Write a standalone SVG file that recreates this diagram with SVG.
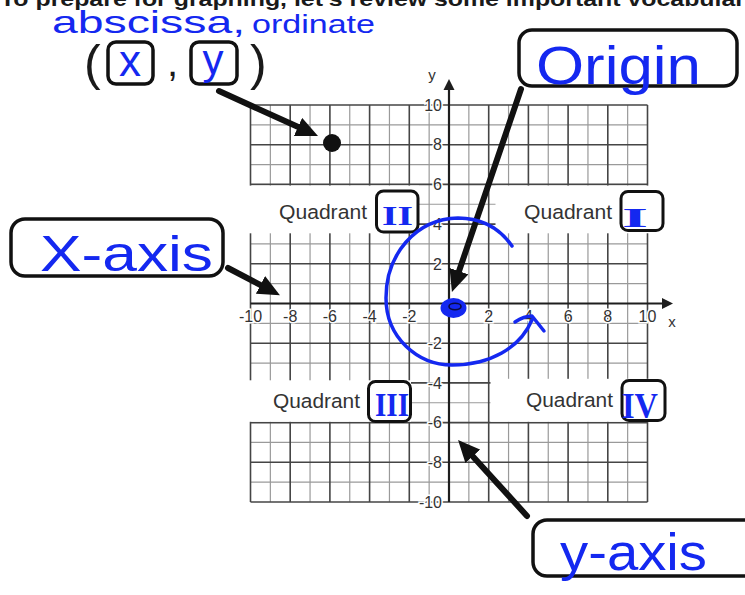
<svg xmlns="http://www.w3.org/2000/svg" width="745" height="595" viewBox="0 0 745 595">
<style>
.hw{font-family:"Liberation Sans","DejaVu Sans",sans-serif;fill:#1428f0}
.paren{font-family:"Liberation Sans",Arial,sans-serif;fill:#1a1a1a}
.box{fill:#fff;stroke:#111;stroke-width:3.5}
.qbox{fill:#fff;stroke:#111;stroke-width:3}
.tick{font-family:"Liberation Sans",Arial,sans-serif;font-size:16px;fill:#333;stroke:#fff;stroke-width:3;paint-order:stroke}
.tx{text-anchor:middle}
.ty{text-anchor:end}
.quad{font-family:"Liberation Sans",Arial,sans-serif;font-size:20.5px;fill:#333}
.roman{font-family:"Liberation Serif","Times New Roman",serif;font-weight:bold;fill:#1428f0}
.minor{stroke:#9a9a9a;stroke-width:1.2;fill:none}
.major{stroke:#454545;stroke-width:1.6;fill:none}
.axis{stroke:#1e1e1e;stroke-width:2.2;fill:none}
.arrow{stroke:#111;stroke-width:6;fill:none;stroke-linecap:round;marker-end:url(#ah)}
.ink{stroke:#1428f0;stroke-width:3.5;fill:none;stroke-linecap:round;stroke-linejoin:round}
</style>
<defs>
<marker id="ah" markerUnits="userSpaceOnUse" viewBox="0 0 22 20" markerWidth="22" markerHeight="20" refX="10" refY="10" orient="auto">
<path d="M0,0 L22,10 L0,20 z" fill="#111"/>
</marker>
</defs>
<rect width="745" height="595" fill="#fff"/>

<g id="header">
<text x="0" y="5.5" font-family="Liberation Sans, Arial, sans-serif" font-weight="bold" font-size="20" fill="#1a1a1a" textLength="745" lengthAdjust="spacingAndGlyphs">To prepare for graphing, let's review some important vocabular</text>
</g>

<g id="abscissa-ordinate">
<text class="hw"><tspan x="52" y="33" font-size="32" textLength="193" lengthAdjust="spacingAndGlyphs">abscissa,</tspan> <tspan x="252" y="33" font-size="26" textLength="123" lengthAdjust="spacingAndGlyphs">ordinate</tspan></text>
</g>

<g id="coordinate-pair">
<text class="paren" x="84" y="80" font-size="50">(</text>
<rect class="box" x="108" y="42" width="45" height="42" rx="8"/>
<text class="hw" x="130" y="76" font-size="44" text-anchor="middle">x</text>
<text class="paren" x="167" y="76" font-size="40">,</text>
<rect class="box" x="191" y="42" width="46" height="42" rx="8"/>
<text class="hw" x="213" y="74" font-size="42" text-anchor="middle">y</text>
<text class="paren" x="250" y="80" font-size="50">)</text>
</g>

<g id="grid">
<path class="minor" d="M270.35,105V502M310.05,105V502M349.75,105V502M389.45,105V502M429.15,105V502M468.85,105V502M508.55,105V502M548.25,105V502M587.95,105V502M627.65,105V502M250.5,124.85H647.5M250.5,164.55H647.5M250.5,204.25H647.5M250.5,243.95H647.5M250.5,283.65H647.5M250.5,323.35H647.5M250.5,363.05H647.5M250.5,402.75H647.5M250.5,442.45H647.5M250.5,482.15H647.5"/>
<path class="major" d="M250.5,105V502M290.2,105V502M329.9,105V502M369.6,105V502M409.3,105V502M488.7,105V502M528.4,105V502M568.1,105V502M607.8,105V502M647.5,105V502M250.5,105H647.5M250.5,144.7H647.5M250.5,184.4H647.5M250.5,224.1H647.5M250.5,263.8H647.5M250.5,343.2H647.5M250.5,382.9H647.5M250.5,422.6H647.5M250.5,462.3H647.5M250.5,502H647.5"/>
<g fill="#fff">
<rect x="248" y="185.6" width="171" height="47.7"/>
<rect x="495.5" y="185.6" width="155" height="47.7"/>
<rect x="248" y="380.3" width="163" height="41.5"/>
<rect x="490.5" y="378.8" width="160" height="43"/>
</g>
</g>

<g id="axes">
<path class="axis" d="M250.5,303.5H664M449,502V88"/>
<path d="M673,303.5 L662,298 L662,309 z" fill="#1e1e1e"/>
<path d="M449,79 L443.5,90 L454.5,90 z" fill="#1e1e1e"/>
<text x="672" y="327" font-family="Liberation Sans, Arial, sans-serif" font-size="15" fill="#333" text-anchor="middle">x</text>
<text x="432" y="80" font-family="Liberation Sans, Arial, sans-serif" font-size="15" fill="#333" text-anchor="middle">y</text>
</g>

<g id="tick-labels" class="tick">
<text class="tx" x="250.5" y="322">-10</text>
<text class="tx" x="290.2" y="322">-8</text>
<text class="tx" x="329.9" y="322">-6</text>
<text class="tx" x="369.6" y="322">-4</text>
<text class="tx" x="409.3" y="322">-2</text>
<text class="tx" x="488.7" y="322">2</text>
<text class="tx" x="528.4" y="322">4</text>
<text class="tx" x="568.1" y="322">6</text>
<text class="tx" x="607.8" y="322">8</text>
<text class="tx" x="647.5" y="322">10</text>
<text class="ty" x="442" y="110.7">10</text>
<text class="ty" x="442" y="150.4">8</text>
<text class="ty" x="442" y="190.1">6</text>
<text class="ty" x="442" y="229.8">4</text>
<text class="ty" x="442" y="269.5">2</text>
<text class="ty" x="442" y="348.9">-2</text>
<text class="ty" x="442" y="388.6">-4</text>
<text class="ty" x="442" y="428.3">-6</text>
<text class="ty" x="442" y="468">-8</text>
<text class="ty" x="442" y="507.7">-10</text>
</g>

<g id="quadrant-2">
<text class="quad" x="279" y="219" textLength="88" lengthAdjust="spacingAndGlyphs">Quadrant</text>
<rect class="qbox" x="376.5" y="191" width="41.5" height="41" rx="7"/>
<text class="roman" x="382" y="225" font-size="28" textLength="31" lengthAdjust="spacingAndGlyphs">II</text>
</g>
<g id="quadrant-1">
<text class="quad" x="524" y="218.5" textLength="88" lengthAdjust="spacingAndGlyphs">Quadrant</text>
<rect class="qbox" x="621" y="191.5" width="42" height="39" rx="7"/>
<text class="roman" x="622" y="227" font-size="28" textLength="26" lengthAdjust="spacingAndGlyphs">I</text>
</g>
<g id="quadrant-3">
<text class="quad" x="273" y="408" textLength="87" lengthAdjust="spacingAndGlyphs">Quadrant</text>
<rect class="qbox" x="368.5" y="381.5" width="42" height="40" rx="7"/>
<text class="roman" x="375" y="415.5" font-size="34" textLength="34" lengthAdjust="spacingAndGlyphs">III</text>
</g>
<g id="quadrant-4">
<text class="quad" x="526" y="407" textLength="87" lengthAdjust="spacingAndGlyphs">Quadrant</text>
<rect class="qbox" x="622" y="380.5" width="43" height="40" rx="7"/>
<text class="roman" x="622" y="418" font-size="36" textLength="36" lengthAdjust="spacingAndGlyphs">IV</text>
</g>

<g id="point">
<circle cx="332" cy="143" r="9" fill="#111"/>
</g>

<g id="origin-label">
<rect class="box" x="519" y="30" width="218" height="56" rx="13"/>
<text class="hw" x="536" y="84" font-size="54" textLength="165" lengthAdjust="spacingAndGlyphs">Origin</text>
</g>

<g id="x-axis-label">
<rect class="box" x="11" y="219" width="212" height="57" rx="14"/>
<text class="hw" x="40" y="271" font-size="50" textLength="173" lengthAdjust="spacingAndGlyphs">X-axis</text>
</g>

<g id="y-axis-label">
<rect class="box" x="533" y="520" width="230" height="56" rx="14"/>
<text class="hw" x="560" y="570" font-size="52" textLength="147" lengthAdjust="spacingAndGlyphs">y-axis</text>
</g>

<g id="connectors">
<path class="arrow" d="M219,91 L307.1,131.1"/>
<path class="arrow" d="M521,89 L455.8,280.6"/>
<path class="arrow" d="M228,268 L269.3,289.6"/>
<path class="arrow" d="M527,516 L466.1,448.9"/>
</g>

<g id="origin-mark">
<path class="ink" d="M512,246 C498,226 478,218 458,218 C415,219 386,255 386,298 C386,338 418,365 452,365 C490,365 520,348 532,320"/>
<path class="ink" d="M515,322 C521,318 527,316 532,316 L544,331"/>
<ellipse cx="453.5" cy="308" rx="13" ry="10" fill="#1428f0"/>
<ellipse cx="455" cy="306.5" rx="6" ry="3.2" fill="none" stroke="#0a0a40" stroke-width="1.6"/>
</g>
</svg>
